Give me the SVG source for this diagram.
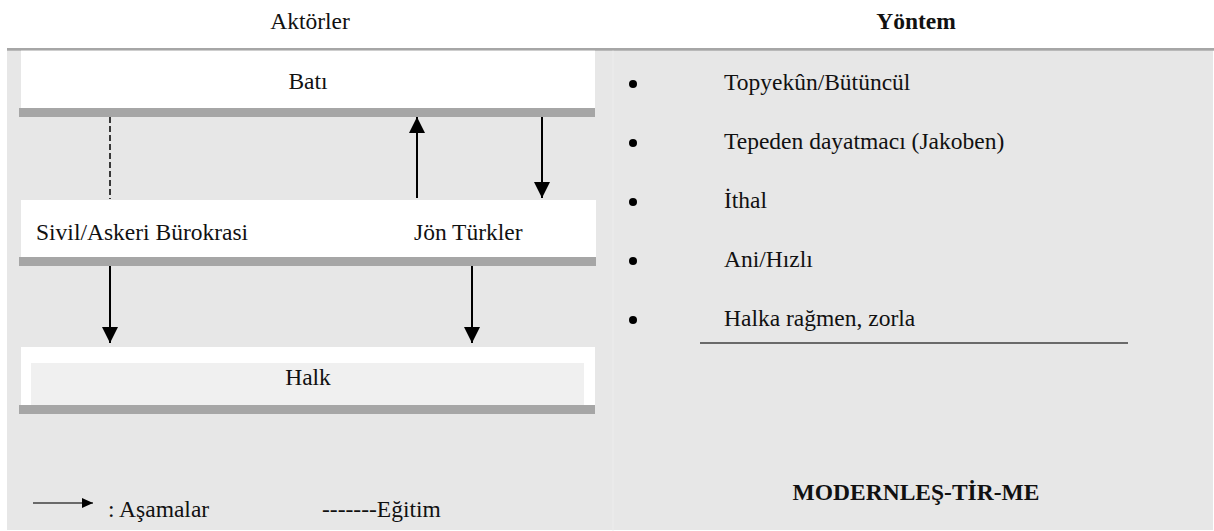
<svg xmlns="http://www.w3.org/2000/svg" width="1214" height="531" viewBox="0 0 1214 531">
  <style>
    .t { font-family: "Times New Roman", "Liberation Serif", "DejaVu Serif", serif; font-size: 23.5px; fill: #111; }
    .b { font-weight: bold; }
    .mid { text-anchor: middle; }
    .box { fill: #ffffff; }
    .bar { fill: #a6a6a6; }
    .conn { stroke: #000; stroke-width: 2; fill: none; }
    .dash { stroke: #000; stroke-width: 1.5; stroke-dasharray: 6 3; fill: none; }
  </style>
  <defs>
    <marker id="ah" viewBox="0 0 16 16" refX="16" refY="8" markerWidth="16" markerHeight="16" markerUnits="userSpaceOnUse" orient="auto">
      <path d="M0,0 L16,8 L0,16 Z" fill="#000"/>
    </marker>
    <marker id="ahs" viewBox="0 0 11 10" refX="11" refY="5" markerWidth="11" markerHeight="10" markerUnits="userSpaceOnUse" orient="auto">
      <path d="M0,0 L11,5 L0,10 Z" fill="#000"/>
    </marker>
  </defs>

  <rect x="0" y="0" width="1214" height="531" fill="#ffffff"/>

  <!-- headers -->
  <g id="header-aktorler"><text class="t mid" x="310" y="29">Aktörler</text></g>
  <g id="header-yontem"><text class="t b mid" x="916" y="29">Yöntem</text></g>

  <!-- panel background -->
  <rect x="7" y="50" width="1206" height="480" fill="#e7e7e7"/>
  <rect x="7" y="48" width="1207" height="2.7" fill="#a6a6a6"/>
  <rect x="612.5" y="50.7" width="1" height="480" fill="#eeeeee"/>

  <!-- left nodes -->
  <g id="node-bati">
    <rect class="box" x="21" y="50.7" width="574" height="57.3"/>
    <rect class="bar" x="19" y="108" width="576" height="9"/>
    <text class="t mid" x="308" y="89">Batı</text>
  </g>
  <g id="node-burokrasi-jonturkler">
    <rect class="box" x="21" y="200" width="575" height="57"/>
    <rect class="bar" x="19" y="257" width="577" height="9"/>
    <text class="t" x="36" y="240">Sivil/Askeri Bürokrasi</text>
    <text class="t" x="414" y="240">Jön Türkler</text>
  </g>
  <g id="node-halk">
    <rect class="box" x="21" y="347" width="574" height="58"/>
    <rect x="31" y="363" width="553" height="42" fill="#f0f0f0"/>
    <rect class="bar" x="19" y="405" width="576" height="9"/>
    <text class="t mid" x="308" y="385">Halk</text>
  </g>

  <!-- connectors -->
  <g id="connectors">
    <line class="dash" x1="110" y1="117" x2="110" y2="199"/>
    <line class="conn" x1="417" y1="198" x2="417" y2="117" marker-end="url(#ah)"/>
    <line class="conn" x1="542" y1="117" x2="542" y2="198" marker-end="url(#ah)"/>
    <line class="conn" x1="110" y1="266" x2="110" y2="343" marker-end="url(#ah)"/>
    <line class="conn" x1="472" y1="266" x2="472" y2="343" marker-end="url(#ah)"/>
  </g>

  <!-- legend -->
  <g id="legend">
    <line x1="33" y1="503" x2="93" y2="503" stroke="#404040" stroke-width="1.5" marker-end="url(#ahs)"/>
    <text class="t" x="108" y="517">: Aşamalar</text>
    <text class="t" x="322" y="517">-------Eğitim</text>
  </g>

  <!-- right list -->
  <g id="method-list">
    <circle cx="633" cy="84" r="4" fill="#000"/>
    <text class="t" x="724" y="90">Topyekûn/Bütüncül</text>
    <circle cx="633" cy="143" r="4" fill="#000"/>
    <text class="t" x="724" y="149">Tepeden dayatmacı (Jakoben)</text>
    <circle cx="633" cy="202" r="4" fill="#000"/>
    <text class="t" x="724" y="208">İthal</text>
    <circle cx="633" cy="261" r="4" fill="#000"/>
    <text class="t" x="724" y="267">Ani/Hızlı</text>
    <circle cx="633" cy="320" r="4" fill="#000"/>
    <text class="t" x="724" y="326">Halka rağmen, zorla</text>
    <line x1="700" y1="343" x2="1128" y2="343" stroke="#404040" stroke-width="1.5"/>
  </g>

  <g id="title-modernlestirme">
    <text class="t b mid" x="916" y="500">MODERNLEŞ-TİR-ME</text>
  </g>
</svg>
